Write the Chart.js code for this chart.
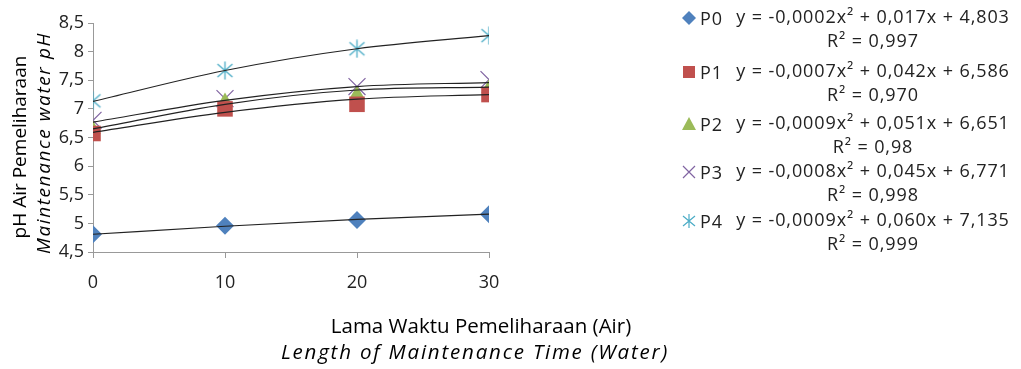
<!DOCTYPE html>
<html>
<head>
<meta charset="utf-8">
<script src="https://cdn.jsdelivr.net/npm/chart.js"></script>
<style>
  body { margin: 0; background: #fff; }
  #wrap { position: relative; width: 1021px; height: 369px; }
  .ytitle { position: absolute; left: 0; top: 0; transform-origin: 0 0; white-space: nowrap;
    font-family: "Open Sans", sans-serif; font-size: 19px; color: #000; text-align: center; width: 240px; }
  .xtitle { position: absolute; left: 275px; width: 400px; text-align: center; white-space: nowrap;
    font-family: "Open Sans", sans-serif; font-size: 20.5px; color: #000; }
  .leg { position: absolute; left: 680px; font-family: "Open Sans", sans-serif; font-size: 18px; color: #222; letter-spacing: 0.9px; }
  .leg svg { position: absolute; left: 2px; top: 4px; }
  .leg .name { position: absolute; left: 20px; top: -1px; }
  .leg .eq { position: absolute; left: 43px; width: 300px; text-align: center; line-height: 24px; top: -3px; white-space: nowrap; }
</style>
</head>
<body>
<div id="wrap">
  <canvas id="myChart" width="1021" height="369"></canvas>
  <div class="ytitle" style="transform: rotate(-90deg); top: 267px; left: 6px;">pH Air Pemeliharaan</div>
  <div class="ytitle" style="transform: rotate(-90deg); top: 263px; left: 30px; font-style: italic; letter-spacing: 1.6px;">Maintenance water pH</div>
  <div class="xtitle" style="top: 311px; left: 281px;">Lama Waktu Pemeliharaan (Air)</div>
  <div class="xtitle" style="top: 337px; font-style: italic; letter-spacing: 1.8px;">Length of Maintenance Time (Water)</div>
  <div id="legend"></div>
</div>
<script>
var xValues = [0, 10, 20, 30];
var yTicks = [4.5, 5, 5.5, 6, 6.5, 7, 7.5, 8, 8.5];

var names = ["P0", "P1", "P2", "P3", "P4"];
var p0 = [4.81, 4.96, 5.06, 5.16];
var p1 = [6.57, 7.0, 7.08, 7.25];
var p2 = [6.64, 7.13, 7.25, 7.36];
var p3 = [6.80, 7.18, 7.39, 7.51];
var p4 = [7.14, 7.67, 8.05, 8.28];

// trendline values
var t0 = [4.81, 4.95, 5.07, 5.16];
var t1 = [6.59, 6.94, 7.17, 7.25];
var t2 = [6.65, 7.08, 7.33, 7.38];
var t3 = [6.77, 7.15, 7.39, 7.46];
var t4 = [7.13, 7.67, 8.05, 8.28];

var equations = [
  "y = -0,0002x² + 0,017x + 4,803",
  "y = -0,0007x² + 0,042x + 6,586",
  "y = -0,0009x² + 0,051x + 6,651",
  "y = -0,0008x² + 0,045x + 6,771",
  "y = -0,0009x² + 0,060x + 7,135"
];
var r2 = ["R² = 0,997", "R² = 0,970", "R² = 0,98", "R² = 0,998", "R² = 0,999"];

var colors = ["#4F81BD", "#C0504D", "#9BBB59", "#8064A2", "#4BACC6"];
var radii = [9, 11, 9, 12, 9];

// six-armed asterisk like the Excel marker
var starImg = document.createElement("canvas");
starImg.width = 19; starImg.height = 19;
var sc = starImg.getContext("2d");
sc.strokeStyle = "#4BACC6"; sc.lineWidth = 1.3;
sc.beginPath();
sc.moveTo(2, 3); sc.lineTo(17, 16);
sc.moveTo(17, 3); sc.lineTo(2, 16);
sc.moveTo(9.5, 0.5); sc.lineTo(9.5, 18.5);
sc.stroke();

var styles = ["rectRot", "rect", "triangle", "crossRot", starImg];
var series = [p0, p1, p2, p3, p4];
var trends = [t0, t1, t2, t3, t4];

function pts(arr) {
  return arr.map(function (v, i) { return { x: xValues[i], y: v }; });
}

var datasets = [];
trends.forEach(function (t) {
  datasets.push({
    data: pts(t), showLine: true, borderColor: "#222", borderWidth: 1.2,
    pointRadius: 0, tension: 0.4, cubicInterpolationMode: "monotone", order: 0
  });
});
series.forEach(function (s, i) {
  datasets.push({
    label: names[i], data: pts(s), showLine: false,
    pointStyle: styles[i], pointRadius: radii[i],
    backgroundColor: colors[i], borderColor: colors[i],
    borderWidth: i == 3 ? 1.2 : 0, order: 1
  });
});

new Chart("myChart", {
  type: "scatter",
  data: { datasets: datasets },
  options: {
    responsive: false,
    animation: false,
    layout: { padding: { top: 23, right: 532, left: 0, bottom: 0 } },
    plugins: { legend: { display: false }, tooltip: { enabled: false } },
    scales: {
      x: {
        type: "linear", min: 0, max: 30,
        grid: { drawOnChartArea: false, color: "#999", tickLength: 6 },
        border: { color: "#999" },
        ticks: { stepSize: 10, padding: 14, color: "#222", font: { family: "Open Sans", size: 18 } },
        afterFit: function (s) { s.height = 117; }
      },
      y: {
        min: 4.5, max: 8.5,
        afterBuildTicks: function (s) { s.ticks = yTicks.map(function (v) { return { value: v }; }); },
        grid: { drawOnChartArea: false, color: "#999", tickLength: 5 },
        border: { color: "#999" },
        ticks: {
          padding: 4, color: "#222", font: { family: "Open Sans", size: 18 },
          callback: function (v) { return String(v).replace(".", ","); }
        },
        afterFit: function (s) { s.width = 93; }
      }
    }
  }
});

// legend on the right
var rowTop = [7, 61, 113, 161, 210];
var markerSvg = [
  '<polygon points="7,0 14,7 7,14 0,7" fill="#4F81BD"/>',
  '<rect x="1" y="1" width="12" height="12" fill="#C0504D"/>',
  '<polygon points="7,0 14,13 0,13" fill="#9BBB59"/>',
  '<path d="M1,1 L13,13 M13,1 L1,13" stroke="#8064A2" stroke-width="1.2"/>',
  '<path d="M1,2 L13,12 M13,2 L1,12 M7,0 L7,14" stroke="#4BACC6" stroke-width="1.2"/>'
];
var legendHtml = "";
names.forEach(function (n, i) {
  legendHtml += '<div class="leg" style="top:' + rowTop[i] + 'px">' +
    '<svg width="14" height="14">' + markerSvg[i] + '</svg>' +
    '<span class="name">' + n + '</span>' +
    '<div class="eq">' + equations[i] + '<br>' + r2[i] + '</div></div>';
});
document.getElementById("legend").innerHTML = legendHtml;
</script>
</body>
</html>
